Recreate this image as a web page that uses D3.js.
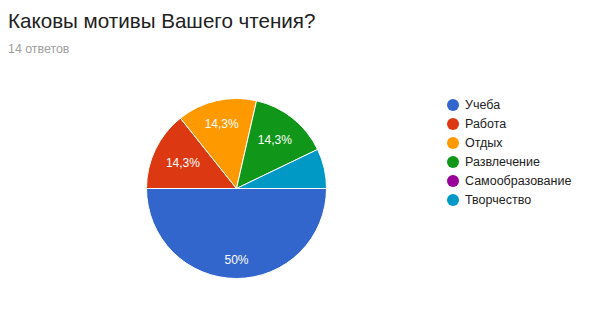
<!DOCTYPE html>
<html>
<head>
<meta charset="utf-8">
<script src="https://cdn.jsdelivr.net/npm/d3@7"></script>
<style>
  body { margin: 0; background: #fff; }
  svg text { font-family: Arial, "Liberation Sans", sans-serif; }
</style>
</head>
<body>
<svg width="603" height="321"></svg>
<script>
// answers to "Каковы мотивы Вашего чтения?"
var categories = ["Учеба", "Работа", "Отдых", "Развлечение", "Самообразование", "Творчество"];
var counts = [7, 2, 2, 2, 0, 1];
var colors = ["#3366cc", "#dc3912", "#ff9900", "#109618", "#990099", "#0099c6"];

var svg = d3.select("svg");
var width = 603, height = 321;

var cx = 236.5, cy = 188.5, radius = 90;
var labelRadius = 78; // label boxes must fit inside this

var total = d3.sum(counts);

// title
svg.append("text")
    .attr("x", 8).attr("y", 28)
    .style("font-size", "20.6px")
    .style("fill", "#212121")
    .text("Каковы мотивы Вашего чтения?");

svg.append("text")
    .attr("x", 8).attr("y", 53)
    .style("font-size", "12.4px")
    .style("fill", "#9e9e9e")
    .text(total + " ответов");

// PIE
var pie = d3.pie()
    .sort(null)
    .value(d => d.value)
    .startAngle(Math.PI / 2)
    .endAngle(Math.PI / 2 + 2 * Math.PI);

var data = categories.map((c, i) => ({name: c, value: counts[i], color: colors[i]}));
var arcs = pie(data);

var arc = d3.arc().innerRadius(0).outerRadius(radius);

var g = svg.append("g").attr("transform", "translate(" + cx + "," + cy + ")");

g.selectAll("path").data(arcs.filter(d => d.value > 0))
    .enter()
    .append("path")
    .attr("d", arc)
    .style("fill", d => d.data.color)
    .style("stroke", "#fff")
    .style("stroke-width", 1);

var fmt = v => {
    var p = Math.round(v / total * 1000) / 10;
    return String(p).replace(".", ",") + "%";
};

// labels only for slices big enough
var labels = g.selectAll("text.lbl").data(arcs.filter(d => d.value / total > 0.1))
    .enter()
    .append("text")
    .attr("class", "lbl")
    .attr("text-anchor", "middle")
    .attr("dominant-baseline", "central")
    .style("font-size", "12px")
    .style("fill", "#fff")
    .text(d => fmt(d.value));

// push each label outward along its mid angle until the box hits labelRadius
labels.each(function(d) {
    var bb = this.getBBox();
    var hw = bb.width / 2, hh = bb.height / 2 - 1;
    var a = (d.startAngle + d.endAngle) / 2;
    var dx = Math.sin(a), dy = -Math.cos(a);
    var dist = 0;
    for (var t = 0; t < radius; t += 0.5) {
        var px = t * dx, py = t * dy;
        var fx = Math.abs(px) + hw, fy = Math.abs(py) + hh;
        if (Math.sqrt(fx * fx + fy * fy) > labelRadius) break;
        dist = t;
    }
    d3.select(this).attr("x", dist * dx).attr("y", dist * dy);
});

// LEGEND
var legend = svg.append("g").attr("transform", "translate(453,105)");
var lineHeight = 19;

var items = legend.selectAll("g").data(data)
    .enter()
    .append("g")
    .attr("transform", (d, i) => "translate(0," + i * lineHeight + ")");

items.append("circle")
    .attr("r", 6)
    .style("fill", d => d.color);

items.append("text")
    .attr("x", 12)
    .attr("dy", "0.35em")
    .style("font-size", "12.5px")
    .style("fill", "#222")
    .text(d => d.name);
</script>
</body>
</html>
